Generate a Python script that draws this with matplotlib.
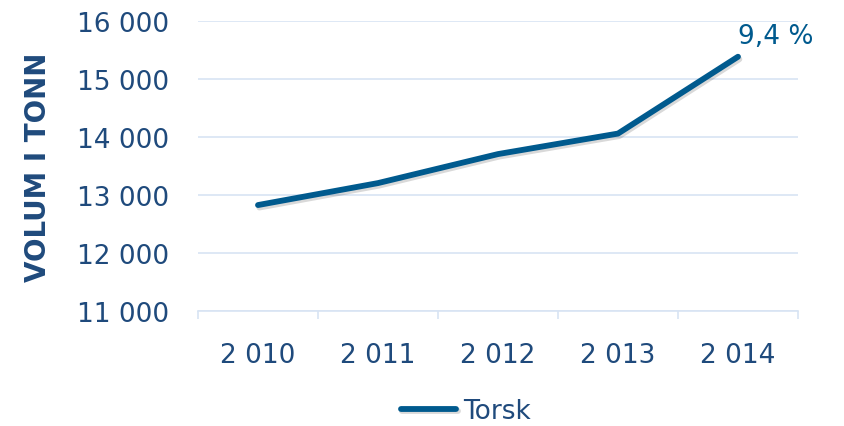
import matplotlib
matplotlib.use('Agg')
import matplotlib.pyplot as plt
import matplotlib.patheffects as pe

years = [2010, 2011, 2012, 2013, 2014]
torsk = [12828, 13206, 13705, 14058, 15380]
yticks = [11000, 12000, 13000, 14000, 15000, 16000]

text_col = '#1f4a7c'
line_col = '#005a8e'
grid_col = '#d8e4f3'

def spaced(n):
    return '{:,}'.format(n).replace(',', ' ')

plt.rcParams['font.family'] = ['DejaVu Sans']
fig = plt.figure(figsize=(8.44, 4.27), dpi=100)
ax = fig.add_axes([0.2346, 0.2686, 0.7109, 0.6806])

x = list(range(len(years)))
ax.plot(x, torsk, color=line_col, lw=4.2, solid_capstyle='round', label='Torsk',
        path_effects=[pe.SimpleLineShadow(offset=(1, -1.8), shadow_color='black', alpha=0.15),
                      pe.Normal()])

growth = (torsk[-1] / torsk[-2] - 1) * 100
ax.annotate('{:.1f} %'.format(growth).replace('.', ','), xy=(x[-1], torsk[-1]),
            xytext=(0, 15), textcoords='offset points', ha='left', va='center',
            fontsize=19, color=line_col)

ax.set_ylim(11000, 16000)
ax.set_xlim(-0.5, len(years) - 0.5)
ax.set_yticks(yticks)
ax.set_yticklabels([spaced(v) for v in yticks])
ax.set_xticks(x)
ax.set_xticklabels([spaced(y) for y in years])
ax.set_xticks([i - 0.5 for i in range(len(years) + 1)], minor=True)

ax.grid(axis='y', color=grid_col, lw=1.2)
ax.set_axisbelow(True)
for s in ['top', 'right', 'left']:
    ax.spines[s].set_visible(False)
ax.spines['bottom'].set_color(grid_col)
ax.spines['bottom'].set_linewidth(1.2)

ax.tick_params(axis='y', length=0, pad=21, labelsize=19, labelcolor=text_col)
ax.tick_params(axis='x', which='major', length=0, pad=22, labelsize=19, labelcolor=text_col)
ax.tick_params(axis='x', which='minor', length=6, width=1.2, color=grid_col)

ax.set_ylabel('VOLUM I TONN', fontsize=20, fontweight='bold', color=text_col, labelpad=18)

fig.legend(loc='center', bbox_to_anchor=(0.552, 0.035), frameon=False, fontsize=19,
           handlelength=2.1, handletextpad=0.25, labelcolor=text_col)

fig.savefig('out.png', dpi=100)
